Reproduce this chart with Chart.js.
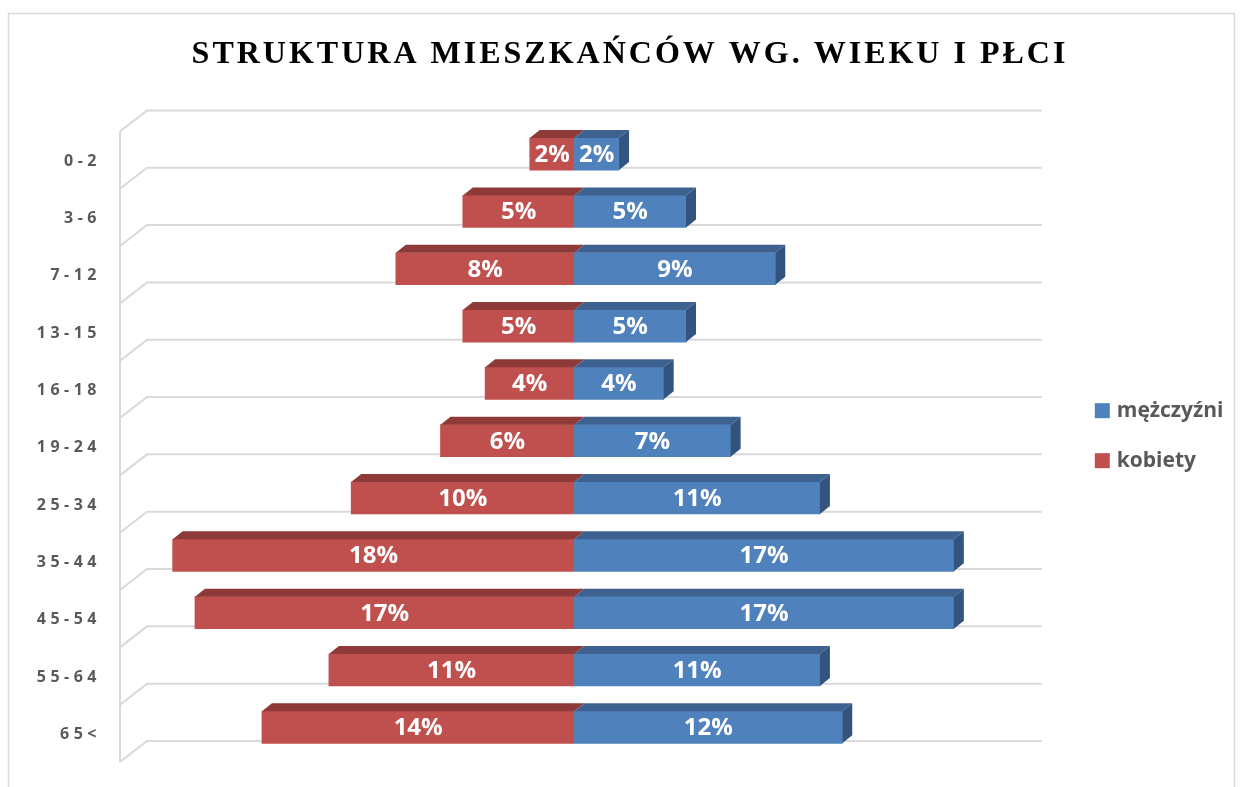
<!DOCTYPE html>
<html>
<head>
<meta charset="utf-8">
<script src="https://cdn.jsdelivr.net/npm/chart.js@4"></script>
<style>
    body { margin: 0; background: #ffffff; }
    #wrap { width: 1244px; height: 787px; }
</style>
</head>
<body>
<div id="wrap"><canvas id="pyramid" width="1244" height="787"></canvas></div>
<script>
// Age groups and shares (%)
const ageGroups = ['0-2', '3-6', '7-12', '13-15', '16-18', '19-24', '25-34', '35-44', '45-54', '55-64', '65<'];
const menPct = [2, 5, 9, 5, 4, 7, 11, 17, 17, 11, 12];
const womenPct = [2, 5, 8, 5, 4, 6, 10, 18, 17, 11, 14];

const seriesNames = ['mężczyźni', 'kobiety'];
const frontColors = ['#4F81BD', '#C0504D'];
const topColors = ['#3D6290', '#8E3A38'];
const sideColors = ['#32547F', '#7A3230'];

const DEPTH_X = 10, DEPTH_Y = 8;

// Back-wall grid drawn like Excel's 3D bar chart
const wallGrid = {
    id: 'wallGrid',
    beforeDraw(chart) {
        const ctx = chart.ctx;
        ctx.save();
        ctx.fillStyle = '#ffffff';
        ctx.fillRect(0, 0, chart.width, chart.height);
        ctx.strokeStyle = '#D9D9D9';
        ctx.lineWidth = 1.5;
        ctx.strokeRect(8.5, 13.5, 1226, 790);
        ctx.restore();
        // spacing for the title
        ctx.letterSpacing = '3px';
    },
    beforeDatasetsDraw(chart) {
        const ctx = chart.ctx;
        const area = chart.chartArea;
        const xs = chart.scales.x;
        const n = ageGroups.length;
        const step = (area.bottom - area.top) / n;
        const fx = area.left - 8;
        const bx = fx + 27;
        const bxEnd = xs.getPixelForValue(20) + 21;
        const y0 = area.top + 6;
        ctx.letterSpacing = '0px';
        ctx.save();
        ctx.strokeStyle = '#D9D9D9';
        ctx.lineWidth = 2;
        ctx.beginPath();
        ctx.moveTo(fx, y0);
        ctx.lineTo(fx, y0 + n * step);
        for (let k = 0; k <= n; k++) {
            const y = y0 + k * step;
            ctx.moveTo(fx, y);
            ctx.lineTo(bx, y - 21);
            ctx.lineTo(bxEnd, y - 21);
        }
        ctx.stroke();
        ctx.restore();
    },
    afterDatasetsDraw(chart) {
        const ctx = chart.ctx;
        ctx.save();
        // 3D top and side faces
        [1, 0].forEach(di => {
            const meta = chart.getDatasetMeta(di);
            meta.data.forEach(bar => {
                const p = bar.getProps(['x', 'y', 'base', 'height'], true);
                const left = Math.min(p.x, p.base);
                const right = Math.max(p.x, p.base);
                const top = p.y - p.height / 2;
                const bottom = p.y + p.height / 2;
                ctx.fillStyle = topColors[di];
                ctx.beginPath();
                ctx.moveTo(left, top);
                ctx.lineTo(left + DEPTH_X, top - DEPTH_Y);
                ctx.lineTo(right + DEPTH_X, top - DEPTH_Y);
                ctx.lineTo(right, top);
                ctx.closePath();
                ctx.fill();
                if (p.x > p.base) {
                    ctx.fillStyle = sideColors[di];
                    ctx.beginPath();
                    ctx.moveTo(right, top);
                    ctx.lineTo(right + DEPTH_X, top - DEPTH_Y);
                    ctx.lineTo(right + DEPTH_X, bottom - DEPTH_Y);
                    ctx.lineTo(right, bottom);
                    ctx.closePath();
                    ctx.fill();
                }
            });
        });
        // value labels
        ctx.fillStyle = '#ffffff';
        ctx.font = 'bold 24px "Open Sans"';
        ctx.textAlign = 'center';
        ctx.textBaseline = 'middle';
        chart.data.datasets.forEach((ds, di) => {
            chart.getDatasetMeta(di).data.forEach((bar, i) => {
                const c = bar.getCenterPoint();
                ctx.fillText(Math.abs(ds.data[i]) + '%', c.x, c.y + 1);
            });
        });
        ctx.restore();
        // spacing for the age labels (drawn after datasets)
        ctx.letterSpacing = '4.5px';
    },
    afterDraw(chart) {
        const ctx = chart.ctx;
        const xs = chart.scales.x;
        const area = chart.chartArea;
        ctx.letterSpacing = '0px';
        ctx.save();
        const lx = xs.getPixelForValue(20) + 74;
        const mid = (area.top + area.bottom) / 2 - 5;
        ctx.font = 'bold 21px "Open Sans"';
        ctx.textBaseline = 'middle';
        ctx.textAlign = 'left';
        chart.data.datasets.forEach((ds, di) => {
            const cy = mid + (di === 0 ? -25 : 25);
            ctx.fillStyle = ds.backgroundColor;
            ctx.fillRect(lx, cy - 7.5, 15, 15);
            ctx.fillStyle = '#595959';
            ctx.fillText(ds.label, lx + 22, cy);
        });
        ctx.restore();
    }
};

new Chart(document.getElementById('pyramid'), {
    type: 'bar',
    data: {
        labels: ageGroups,
        datasets: [
            {
                label: seriesNames[0],
                data: menPct,
                backgroundColor: frontColors[0],
                barThickness: 32
            },
            {
                label: seriesNames[1],
                data: womenPct.map(v => -v),
                backgroundColor: frontColors[1],
                barThickness: 32
            }
        ]
    },
    options: {
        indexAxis: 'y',
        responsive: false,
        devicePixelRatio: 1,
        animation: false,
        layout: {
            padding: { left: 16, right: 0, top: 0, bottom: 31 }
        },
        scales: {
            x: {
                display: false,
                stacked: true,
                min: -20,
                max: 30
            },
            y: {
                stacked: true,
                grid: { display: false },
                border: { display: false },
                ticks: {
                    z: 1,
                    padding: 19,
                    labelOffset: 7,
                    color: '#595959',
                    font: { family: 'Open Sans', weight: 'bold', size: 16 }
                },
                afterFit(scale) {
                    scale.width = 112;
                }
            }
        },
        plugins: {
            legend: { display: false },
            tooltip: { enabled: false },
            title: {
                display: true,
                text: 'STRUKTURA MIESZKAŃCÓW WG. WIEKU I PŁCI',
                color: '#000000',
                font: { family: 'Liberation Serif', weight: 'bold', size: 32 },
                padding: { top: 36, bottom: 51 }
            }
        }
    },
    plugins: [wallGrid]
});
</script>
</body>
</html>
